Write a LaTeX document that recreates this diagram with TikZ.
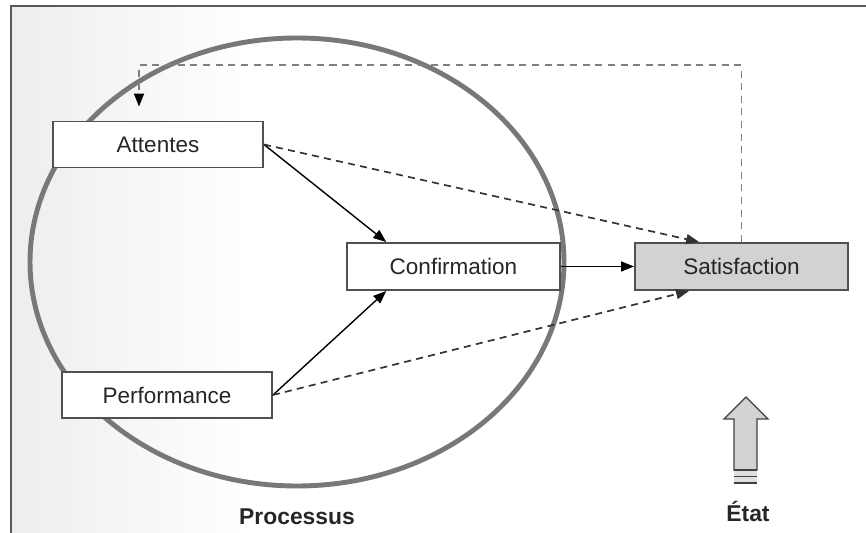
\documentclass[tikz,border=0pt]{standalone}
\usepackage{fontspec}
\setmainfont{Liberation Sans}
\usetikzlibrary{arrows.meta,calc}
\tikzset{
  box/.style={
    draw=boxline,
    line width=1.1pt,
    fill=white,
    text=black!85,
    minimum width=4.2cm,
    minimum height=0.92cm,
    inner sep=0pt,
    font=\fontsize{12.8}{15}\selectfont
  },
  box-grey/.style={box, fill=boxgrey, minimum width=4.26cm, minimum height=0.94cm},
  link/.style={line width=0.8pt, -{Triangle[length=2.6mm,width=2mm]}},
  link-dashed/.style={link, draw=black!80, line width=0.95pt, dash pattern=on 4pt off 3pt},
  feedback/.style={line width=1pt, draw=black!50, dash pattern=on 4pt off 3.2pt,
    -{Triangle[length=2.6mm,width=2mm,black]}},
  caption/.style={anchor=base, text=black!85, font=\bfseries\fontsize{13}{15}\selectfont}
}
\definecolor{boxline}{RGB}{80,80,80}
\definecolor{boxgrey}{RGB}{210,210,210}
\definecolor{ringgrey}{RGB}{120,120,120}
\definecolor{framegrey}{RGB}{90,90,90}

\begin{document}
\begin{tikzpicture}
  \useasboundingbox (0,0) rectangle (17.32,10.66);
  % Frame with soft left shade
  \shade[left color=black!7, right color=white] (0.22,0) rectangle (5,10.54);
  \draw[framegrey, line width=0.9pt] (0.22,0) -- (0.22,10.54) -- (17.32,10.54);
  % Process ellipse
  \draw[ringgrey, line width=2.8pt] (5.94,5.42) ellipse (5.34 and 4.48);
  % Boxes
  \node[box] (att) at (3.16,7.77) {Attentes};
  \node[box, minimum width=4.26cm, minimum height=0.94cm] (conf) at (9.07,5.33) {Confirmation};
  \node[box] (perf) at (3.34,2.76) {Performance};
  \node[box-grey] (sat) at (14.83,5.33) {Satisfaction};
  % Solid links
  \draw[link] (att.east) -- (conf.160);
  \draw[link] (perf.east) -- (conf.200);
  \draw[link] (conf.east) -- (sat.west);
  % Dashed links
  \draw[link-dashed] (att.east) -- (sat.150);
  \draw[link-dashed] (perf.east) -- (sat.205);
  % Feedback loop
  \coordinate (fb) at (2.78,9.36);
  \draw[feedback, shorten >=0.28cm] (sat.north) |- (fb) -- (fb |- att.north);
  % State arrow
  \draw[fill=boxgrey, draw=black!75, line width=0.75pt]
    (14.68,1.26) -- (14.68,2.28) -- (14.48,2.28) -- (14.92,2.72)
    -- (15.36,2.28) -- (15.14,2.28) -- (15.14,1.26) -- cycle;
  \fill[boxgrey!70] (14.68,0.98) rectangle (15.14,1.26);
  \foreach \y/\w in {1.26/0.9pt, 1.13/0.9pt, 1.0/1.4pt}
    \draw[black!75, line width=\w] (14.68,\y) -- (15.14,\y);
  % Captions
  \node[caption] (proc) at (5.94,0.16) {Processus};
  \node[caption] (etat) at (14.96,0.22) {État};
\end{tikzpicture}
\end{document}
